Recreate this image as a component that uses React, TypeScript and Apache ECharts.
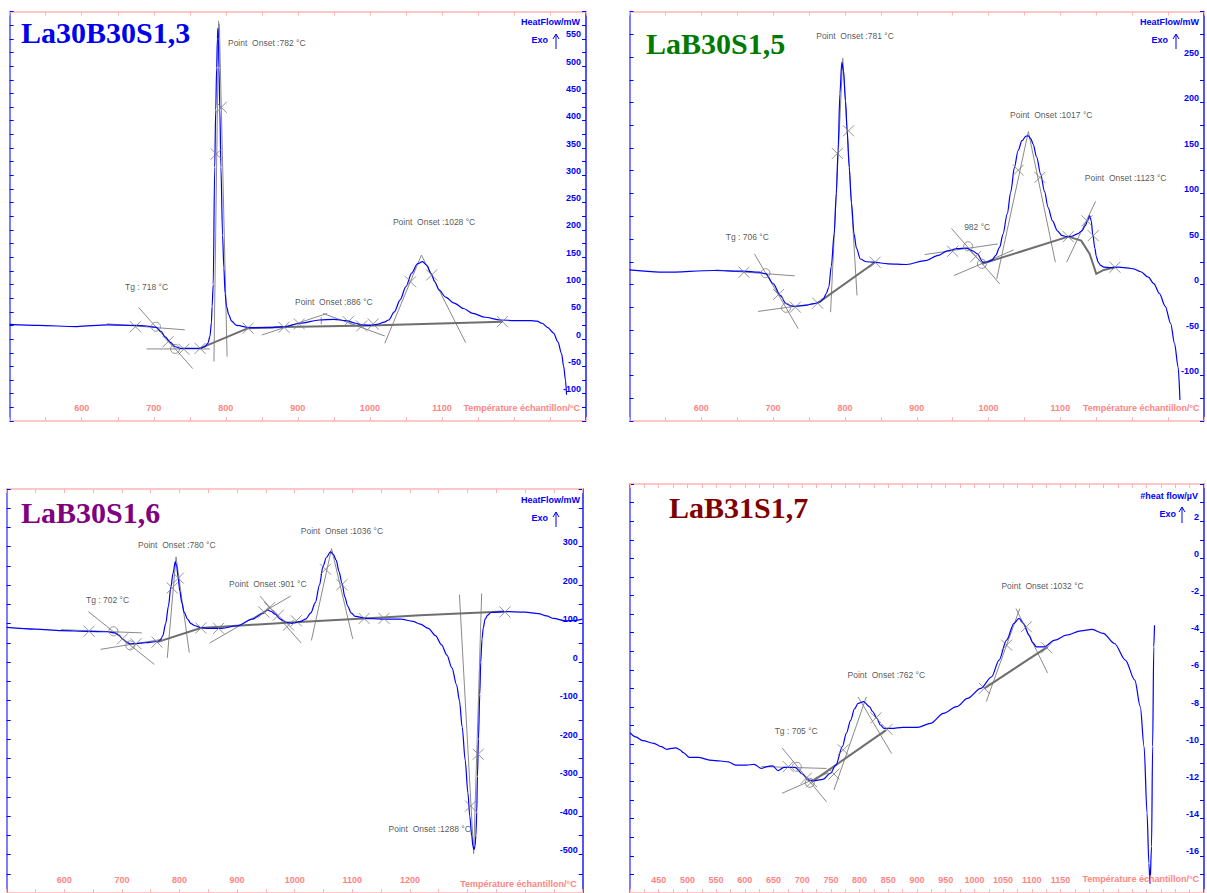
import React, { useEffect, useRef } from 'react';
import * as echarts from 'echarts';

type P = [number, number];
type Seg = P[];
type Note = [number, number, string];

// ---------- Panel 1 : La30B30S1,3 ----------
const p1Curve: P[] = [
  [500, 27], [540, 25], [593, 23], [636, 26], [674, 25], [690, 24], [703, 22], [710, 14], [716, 4], [723, -6],
  [730, -14], [737, -17], [743, -17], [764, -17], [771, -14], [775, -8], [778, 5], [780, 30], [781, 60],
  [782.5, 100], [784.6, 315], [786, 420], [787.3, 497], [788.3, 550], [789, 569], [789.8, 550], [790.5, 497],
  [791.7, 420], [793.2, 315], [795.5, 190], [797.3, 130], [799, 84], [801, 60], [804, 45], [808, 33], [815, 25],
  [834, 21], [860, 21], [882, 23], [903, 29], [930, 35], [950, 36], [967, 34], [980, 29], [989, 26], [1000, 25],
  [1010, 27], [1020, 31], [1026, 35], [1034, 50], [1042, 72], [1050, 96], [1058, 121], [1066, 138], [1073, 142],
  [1079, 135], [1085, 120], [1090, 105], [1096, 90], [1105, 77], [1117, 66], [1130, 56], [1143, 47], [1160, 40],
  [1181, 35], [1200, 34], [1223, 34], [1232, 33], [1239, 29], [1247, 21], [1255, 11], [1261, -5], [1266, -26],
  [1269, -50], [1271.5, -75], [1273, -102],
];
const p1Tangents: Seg[] = [
  [[635, 28], [743, 17]], [[679, 58], [754, -54]], [[690, -18], [778, -18]],
  [[783.5, -41], [790, 583]], [[801.8, -32], [791, 578]],
  [[850, 7.5], [940.7, 47]], [[935, 47], [1020.7, 5.7]], [[932.5, 27], [932.5, 40]],
  [[1020.7, -7.7], [1071.5, 154]], [[1071.5, 154], [1133, -6.6]],
];
const p1Baselines: Seg[] = [
  [[764, -17], [831, 20]],
  [[831, 20], [881, 22], [1000, 25], [1184, 32]],
];
const p1Crosses: P[] = [
  [674.5, 22.7], [720, -4.7], [741.8, -18.5], [764.3, -17], [786.8, 339], [793.7, 424.5], [831, 20],
  [880.7, 21.6], [902, 27.7], [970, 31.9], [988.6, 24], [1004.6, 27.7], [1056.5, 105], [1085.8, 117.4], [1184, 32],
];
const p1Circles: P[] = [[703, 22.7], [729.6, -18]];
const p1Notes: Note[] = [
  [660, 95, 'Tg : 718 °C'], [803, 542, 'Point  Onset :782 °C'], [896, 68, 'Point  Onset :886 °C'],
  [1032, 214, 'Point  Onset :1028 °C'],
];

// ---------- Panel 2 : LaB30S1,5 ----------
const p2Curve: P[] = [
  [500, 16], [550, 13.5], [617, 15.4], [658, 14.6], [680, 13.5], [690, 11.7], [700, 1], [710, -12], [718, -21],
  [725, -23.5], [731, -24], [745, -23], [757, -21], [765, -19], [770, -15.7], [774, -10], [777.5, -3], [781, 20],
  [785, 55.6], [788, 100], [790.4, 147], [793, 210], [795.6, 244], [798, 235], [800.8, 202], [803, 170],
  [806, 128.6], [809, 90], [812.7, 55.6], [816, 40], [821.5, 28], [830, 25], [839.6, 24.5], [860, 22.7],
  [886, 22], [912, 26.3], [930, 32], [943, 37], [956, 39.5], [969, 40], [978, 37], [984.5, 33.6], [992, 24.5],
  [1000, 25], [1005, 27], [1010, 32], [1015.5, 41], [1020, 55], [1026, 77.5], [1031, 102], [1036, 128.6],
  [1041, 147], [1046.6, 158], [1052, 163], [1055.4, 163.4], [1059, 160], [1062, 154.3], [1067, 140],
  [1072.5, 121.4], [1078, 102], [1082.8, 84.8], [1089, 70], [1095.8, 59], [1102, 54], [1108.7, 52.6],
  [1116, 53], [1124, 55.6], [1130, 59], [1134.6, 64.7], [1138, 70], [1140.8, 75.7], [1143, 70], [1145, 55.6],
  [1148, 40], [1150, 31], [1152.6, 24.5], [1156, 21], [1160.5, 19], [1170, 18.5], [1181, 19], [1195, 18],
  [1202, 17.2], [1212, 14], [1222.5, 8], [1230, 1], [1238, -10], [1246, -24], [1253.6, -43], [1259, -65],
  [1264, -90.7], [1266.5, -127],
];
const p2Tangents: Seg[] = [
  [[619.7, 16], [730, 9.5]], [[674, 33.6], [735, -48.6]], [[679, -29.6], [762, -20.5]],
  [[780, -30.4], [797, 248.6]], [[797, 248.6], [816.8, -12]],
  [[911, 32.9], [1013, 44.6]], [[948.3, 61.7], [1015.5, 0.8]], [[952, 9.9], [1035, 38]],
  [[1011.4, 6.2], [1055.4, 168]], [[1055.4, 168], [1093, 24.5]],
  [[1108.7, 24.5], [1149, 91.4]],
];
const p2Baselines: Seg[] = [
  [[762, -20.5], [842, 24.5]],
  [[990.7, 22.7], [1111, 52.6]],
  [[1111, 52.6], [1129, 48.2], [1140.8, 33.6], [1150, 11.7], [1160.5, 16], [1176, 19]],
];
const p2Crosses: P[] = [
  [659.5, 13.5], [707.6, -11], [731, -24.9], [762, -20.5], [842, 24.5], [789.4, 144], [805, 168.9],
  [950, 36.5], [982, 30.7], [1041.4, 125.7], [1071.4, 117.7], [1111, 52.6], [1137, 70], [1145.7, 53.7], [1176, 19],
];
const p2Circles: P[] = [[689.5, 12.4], [718, -25.6], [971.6, 42], [990.7, 22.7]];
const p2Notes: Note[] = [
  [634, 52.6, 'Tg : 706 °C'], [760, 273, 'Point  Onset :781 °C'], [966, 63.6, '982 °C'],
  [1030, 186.4, 'Point  Onset :1017 °C'], [1134, 117.3, 'Point  Onset :1123 °C'],
];

// ---------- Panel 3 : LaB30S1,6 ----------
const p3Curve: P[] = [
  [500, 90.5], [550, 86], [595, 82], [640, 80], [675, 79], [688, 76], [695, 70], [701, 60.6], [708, 52],
  [714.6, 47.8], [725, 48], [741, 50.4], [761, 53.7], [767, 58], [771, 69], [776, 100], [780.8, 145.8],
  [785, 195], [788.8, 231], [792.7, 261], [795, 250], [797.4, 222.5], [800.5, 185], [804, 154.5], [808, 130],
  [814, 111.8], [820, 100], [827, 94.6], [837, 90], [847, 88], [873.5, 88], [900, 94.6], [926.5, 111.8],
  [945, 127], [953, 135.6], [959, 132], [966, 124.6], [975, 112], [986, 103.3], [995, 101], [1002.7, 103.3],
  [1010, 106], [1019, 111.8], [1028, 128], [1035.8, 154.5], [1043, 200], [1049, 248], [1055, 272],
  [1062, 286.5], [1067, 280], [1072, 265], [1077, 235], [1082, 205.6], [1087, 170], [1092, 145.8], [1098, 128],
  [1105, 118.7], [1125, 113.6], [1150, 112], [1185, 111.8], [1205, 106], [1218, 99], [1232, 88],
  [1244.4, 69], [1255, 45], [1264.3, 18], [1273, -15], [1281, -58.8], [1286, -100], [1290.8, -169.6],
  [1296, -255], [1300.7, -340], [1304, -400], [1307.3, -451], [1309.5, -478], [1311.3, -487], [1313, -478],
  [1314.6, -451], [1316, -390], [1317.3, -297], [1319, -200], [1321.3, -84], [1323, 0], [1325.2, 60.6],
  [1327.5, 90], [1330.5, 111.8], [1335, 122], [1340.5, 129], [1363.6, 131.4], [1400, 130], [1423.3, 126.3],
  [1437, 120], [1449.7, 113.6], [1469.6, 107.5], [1485, 108], [1499, 111.8],
];
const p3Tangents: Seg[] = [
  [[594, 84.5], [734.5, 76]], [[641.7, 131.4], [756.3, -5.9]], [[663, 33.3], [767.6, 58.8]],
  [[778.8, 11.2], [794, 273.7]], [[794, 273.7], [817, 24.8]],
  [[852.3, 49.6], [992.7, 171.4]], [[939.8, 171.4], [1011.3, 49.6]],
  [[1029, 56.3], [1064, 295]], [[1064, 295], [1100.7, 60.6]],
  [[1286, 175.7], [1310.7, -497.7]], [[1324.6, 178.3], [1310.7, -497.7]],
];
const p3Baselines: Seg[] = [
  [[761, 52], [837, 88.7]],
  [[837, 88.7], [900, 94.6], [992.7, 103.3], [1151.7, 116], [1218, 122], [1363.6, 131.4]],
];
const p3Crosses: P[] = [
  [643, 80.3], [701, 60.6], [724.5, 47.8], [761, 52], [787.4, 192.8], [798, 218.4], [837, 88.7], [868, 88],
  [946.4, 130.4], [956.3, 141.6], [971.6, 122], [989.4, 96.4], [1002.7, 107.5], [1053.7, 241.4], [1082, 201.3],
  [1120.6, 113.6], [1155, 113.6], [1305.4, -374], [1318.6, -239.4], [1365, 130.4],
];
const p3Circles: P[] = [[685.4, 80.3], [714.6, 43.5]];
const p3Notes: Note[] = [
  [637.7, 161, 'Tg : 702 °C'], [728, 303.6, 'Point  Onset :780 °C'], [886, 203.8, 'Point  Onset :901 °C'],
  [1010.6, 342, 'Point  Onset :1036 °C'], [1162.9, -434, 'Point  Onset :1288 °C'],
];

// ---------- Panel 4 : LaB31S1,7 ----------
const p4Curve: P[] = [
  [400, -9.38], [410, -9.6], [422, -9.8], [441.6, -9.95], [454.5, -10.13], [464, -10.27], [472, -10.22],
  [480, -10.19], [487, -10.3], [493, -10.45], [503, -10.7], [519, -10.7], [538.6, -10.85], [558, -10.9],
  [571, -10.95], [584, -11.12], [603, -11.12], [616, -11.08], [629, -11.3], [639, -11.2], [648.6, -11.16],
  [658, -11.42], [668, -11.24], [687.5, -11.24], [700.4, -11.6], [710, -11.92], [720, -11.96], [736, -11.89],
  [749, -11.56], [758.6, -11.12], [770, -10.13], [777, -9.4], [784.5, -8.7], [791, -8.1], [797.4, -7.8],
  [807, -7.71], [817, -7.98], [823, -8.25], [830, -8.6], [836, -8.95], [842.7, -9.15], [855.7, -9.15],
  [875, -9.09], [901, -9.09], [923.6, -8.88], [946, -8.34], [969, -7.98], [988, -7.53], [1011, -6.99],
  [1030, -6.37], [1043, -5.47], [1056, -4.4], [1069, -3.5], [1077.6, -3.23], [1085.4, -3.5], [1095, -4.13],
  [1102, -4.55], [1108, -4.76], [1121, -4.76], [1140.4, -4.4], [1160, -4.13], [1185.6, -3.9], [1205, -3.82],
  [1224.5, -4.04], [1244, -4.58], [1263, -5.47], [1279.5, -6.55], [1289, -7.98], [1295.6, -10.13],
  [1300.8, -13.7], [1304, -16.4], [1306, -17.5], [1308.6, -15.5], [1310.5, -10.13], [1312.5, -4.76],
  [1313.8, -3.6],
];
const p4Tangents: Seg[] = [
  [[629, -11.2], [742.4, -11.3]], [[664.8, -10.19], [742.4, -13.1]], [[664.8, -12.64], [745.7, -11.53]],
  [[755.4, -12.46], [811.7, -7.45]], [[797.4, -7.45], [855.7, -10.5]],
  [[1020.7, -7.7], [1079, -2.7]], [[1072.4, -2.7], [1127.4, -6.16]],
];
const p4Baselines: Seg[] = [
  [[716.6, -12.02], [846, -9.24]],
  [[1017.4, -6.99], [1127.4, -4.76]],
];
const p4Crosses: P[] = [
  [675.8, -11.2], [707, -11.83], [716.6, -12.02], [755.4, -11.6], [771.6, -10.3], [828.5, -8.58], [848, -9.2],
  [1017.4, -6.99], [1056.2, -4.67], [1090.5, -3.68], [1126, -4.81],
];
const p4Circles: P[] = [[690.7, -11.21], [713.3, -12.07]];
const p4Notes: Note[] = [
  [652, -9.27, 'Tg : 705 °C'], [779, -6.28, 'Point  Onset :762 °C'], [1047, -1.49, 'Point  Onset :1032 °C'],
];

// ---------- Axis scales & labels ----------
const p1Scale = { xMin: 500, xMax: 1300, xTick: 50, yMin: -150, yMax: 600, yTick: 25 };
const p2Scale = { xMin: 500, xMax: 1300, xTick: 50, yMin: -150, yMax: 300, yTick: 25 };
const p3Scale = { xMin: 500, xMax: 1500, xTick: 50, yMin: -600, yMax: 450, yTick: 50 };
const p4Scale = { xMin: 400, xMax: 1400, xTick: 25, yMin: -18, yMax: 4, yTick: 1 };
const p1XLabels = [600, 700, 800, 900, 1000, 1100];
const p2XLabels = [600, 700, 800, 900, 1000, 1100];
const p3XLabels = [600, 700, 800, 900, 1000, 1100, 1200];
const p4XLabels = [450, 500, 550, 600, 650, 700, 750, 800, 850, 900, 950, 1000, 1050, 1100, 1150];
const p1YLabels = [550, 500, 450, 400, 350, 300, 250, 200, 150, 100, 50, 0, -50, -100];
const p2YLabels = [250, 200, 150, 100, 50, 0, -50, -100];
const p3YLabels = [300, 200, 100, 0, -100, -200, -300, -400, -500];
const p4YLabels = [2, 0, -2, -4, -6, -8, -10, -12, -14, -16];

const titles = ['La30B30S1,3', 'LaB30S1,5', 'LaB30S1,6', 'LaB31S1,7'];
const yNames = ['HeatFlow/mW', 'HeatFlow/mW', 'HeatFlow/mW', '#heat flow/µV'];
const xName = 'Température échantillon/°C';

const FONT = '"Liberation Sans", Arial, sans-serif';
const PINK_LINE = '#ffb4b4';
const PINK_TEXT = '#ff8484';
const BLUE = '#0000ff';
const GREY = '#7a7a7a';

const panels = [
  {
    box: { left: 9.7, top: 11.5, width: 576.3, height: 409.5 }, scale: p1Scale, xl: p1XLabels, yl: p1YLabels,
    curve: p1Curve, tangents: p1Tangents, baselines: p1Baselines, crosses: p1Crosses, circles: p1Circles, notes: p1Notes,
    title: { x: 21, y: 32, color: '#0000ee' }, yName: { x: 580, y: 22 }, exo: { x: 548, y: 40, ax: 556, ay1: 34, ay2: 49 },
    xNameY: 408,
  },
  {
    box: { left: 629.5, top: 11.5, width: 576, height: 409.5 }, scale: p2Scale, xl: p2XLabels, yl: p2YLabels,
    curve: p2Curve, tangents: p2Tangents, baselines: p2Baselines, crosses: p2Crosses, circles: p2Circles, notes: p2Notes,
    title: { x: 646, y: 43, color: '#007a00' }, yName: { x: 1199, y: 22 }, exo: { x: 1168, y: 40, ax: 1176, ay1: 34, ay2: 49 },
    xNameY: 408,
  },
  {
    box: { left: 6.7, top: 489, width: 576, height: 409 }, scale: p3Scale, xl: p3XLabels, yl: p3YLabels,
    curve: p3Curve, tangents: p3Tangents, baselines: p3Baselines, crosses: p3Crosses, circles: p3Circles, notes: p3Notes,
    title: { x: 21, y: 512, color: '#800080' }, yName: { x: 580, y: 500 }, exo: { x: 548, y: 518, ax: 556, ay1: 512, ay2: 527 },
    xNameY: 884,
  },
  {
    box: { left: 630, top: 484, width: 575, height: 409 }, scale: p4Scale, xl: p4XLabels, yl: p4YLabels,
    curve: p4Curve, tangents: p4Tangents, baselines: p4Baselines, crosses: p4Crosses, circles: p4Circles, notes: p4Notes,
    title: { x: 669, y: 507, color: '#800000' }, yName: { x: 1198, y: 496 }, exo: { x: 1176, y: 514, ax: 1182, ay1: 507, ay2: 523 },
    xNameY: 879,
  },
];

function buildOption(): any {
  const grid: any[] = [];
  const xAxis: any[] = [];
  const yAxis: any[] = [];
  const series: any[] = [];
  const graphic: any[] = [];

  panels.forEach((p, i) => {
    const s = p.scale;
    grid.push({ ...p.box, containLabel: false });
    const xBase = {
      type: 'value', gridIndex: i, min: s.xMin, max: s.xMax, interval: s.xTick, splitLine: { show: false },
      axisLine: { show: true, onZero: false, lineStyle: { color: PINK_LINE, width: 1.5 } },
      axisTick: { show: true, inside: true, length: 4, lineStyle: { color: PINK_LINE, width: 1 } },
    };
    xAxis.push({
      ...xBase, position: 'bottom',
      axisLabel: {
        show: true, inside: true, margin: 9, color: PINK_TEXT, fontSize: 9, fontWeight: 'bold', fontFamily: FONT,
        showMinLabel: true, showMaxLabel: true,
        formatter: (v: number) => (p.xl.indexOf(v) >= 0 ? String(v) : ''),
      },
    });
    xAxis.push({ ...xBase, position: 'top', axisLabel: { show: false } });
    const yBase = {
      type: 'value', gridIndex: i, min: s.yMin, max: s.yMax, interval: s.yTick, splitLine: { show: false },
      axisTick: { show: true, inside: true, length: 4, lineStyle: { color: BLUE, width: 1 } },
    };
    yAxis.push({
      ...yBase, position: 'right',
      axisLine: { show: true, onZero: false, lineStyle: { color: '#1a1aff', width: 1.5 } },
      axisLabel: {
        show: true, inside: true, margin: 5, color: BLUE, fontSize: 9, fontWeight: 'bold', fontFamily: FONT,
        verticalAlign: 'bottom', showMinLabel: true, showMaxLabel: true,
        formatter: (v: number) => (p.yl.indexOf(v) >= 0 ? String(v) : ''),
      },
    });
    yAxis.push({
      ...yBase, position: 'left',
      axisLine: { show: true, onZero: false, lineStyle: { color: '#5050ff', width: 1.5 } },
      axisLabel: { show: false },
    });
    const ax = { xAxisIndex: 2 * i, yAxisIndex: 2 * i };
    series.push({
      type: 'lines', coordinateSystem: 'cartesian2d', ...ax, polyline: true, silent: true, z: 2,
      data: p.tangents.map((c) => ({ coords: c })),
      lineStyle: { color: '#8a8a8a', width: 1, opacity: 1 },
    });
    series.push({
      type: 'lines', coordinateSystem: 'cartesian2d', ...ax, polyline: true, silent: true, z: 2,
      data: p.baselines.map((c) => ({ coords: c })),
      lineStyle: { color: '#6e6e6e', width: 2, opacity: 1 },
    });
    series.push({
      type: 'line', ...ax, data: p.curve, showSymbol: false, smooth: 0.3, smoothMonotone: 'x', z: 3,
      lineStyle: { color: BLUE, width: 1.2 }, silent: true,
    });
    series.push({
      type: 'scatter', ...ax, data: p.crosses, symbol: 'path://M0,0L10,10M10,0L0,10', symbolSize: 11, z: 4, silent: true,
      itemStyle: { color: 'rgba(0,0,0,0)', borderColor: GREY, borderWidth: 1 },
    });
    series.push({
      type: 'scatter', ...ax, data: p.circles, symbol: 'circle', symbolSize: 9, z: 4, silent: true,
      itemStyle: { color: 'rgba(0,0,0,0)', borderColor: GREY, borderWidth: 1 },
    });
    series.push({
      type: 'scatter', ...ax, symbolSize: 0, z: 5, silent: true,
      data: p.notes.map((n) => ({ name: n[2], value: [n[0], n[1]] })),
      label: {
        show: true, position: [0, 0], align: 'left', verticalAlign: 'middle', formatter: '{b}',
        fontSize: 8.5, color: '#2a2a2a', fontFamily: FONT,
      },
    });

    graphic.push({
      type: 'text', x: p.title.x, y: p.title.y, z: 10,
      style: {
        text: titles[i], fill: p.title.color, font: 'bold 30px "Liberation Serif", "Times New Roman", serif',
        textAlign: 'left', textVerticalAlign: 'middle',
      },
    });
    graphic.push({
      type: 'text', x: p.yName.x, y: p.yName.y, z: 10,
      style: { text: yNames[i], fill: BLUE, font: `bold 9px ${FONT}`, textAlign: 'right', textVerticalAlign: 'middle' },
    });
    graphic.push({
      type: 'text', x: p.exo.x, y: p.exo.y, z: 10,
      style: { text: 'Exo', fill: BLUE, font: `bold 9px ${FONT}`, textAlign: 'right', textVerticalAlign: 'middle' },
    });
    graphic.push({
      type: 'line', z: 10, shape: { x1: p.exo.ax, y1: p.exo.ay2, x2: p.exo.ax, y2: p.exo.ay1 },
      style: { stroke: BLUE, lineWidth: 1 },
    });
    graphic.push({
      type: 'polyline', z: 10,
      shape: { points: [[p.exo.ax - 3, p.exo.ay1 + 5], [p.exo.ax, p.exo.ay1], [p.exo.ax + 3, p.exo.ay1 + 5]] },
      style: { stroke: BLUE, lineWidth: 1, fill: 'none' },
    });
    graphic.push({
      type: 'text', x: p.box.left + p.box.width - 6, y: p.xNameY, z: 10,
      style: { text: xName, fill: PINK_TEXT, font: `bold 9px ${FONT}`, textAlign: 'right', textVerticalAlign: 'middle' },
    });
  });

  return { animation: false, backgroundColor: '#ffffff', grid, xAxis, yAxis, series, graphic };
}

export default function App() {
  const ref = useRef<HTMLDivElement>(null);
  useEffect(() => {
    document.body.style.margin = '0';
    if (!ref.current) return;
    const chart = echarts.init(ref.current, undefined, { renderer: 'svg' });
    chart.setOption(buildOption());
    return () => chart.dispose();
  }, []);
  return <div ref={ref} style={{ width: 1207, height: 893 }} />;
}
